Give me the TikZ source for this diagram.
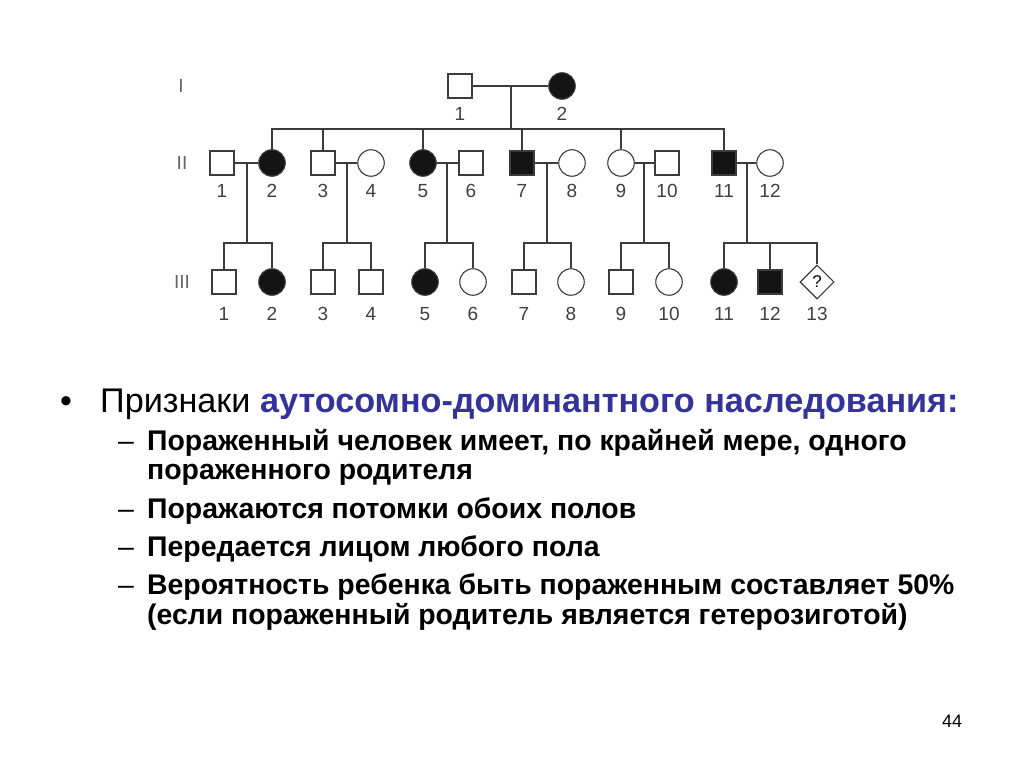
\documentclass[tikz,border=0pt]{standalone}
\usepackage{fontspec}
\setmainfont{Liberation Sans}
\usetikzlibrary{shapes.geometric,calc}
\definecolor{hblue}{RGB}{51,51,153}
\definecolor{pline}{RGB}{60,60,60}
\begin{document}
\begin{tikzpicture}[x=1pt,y=-1pt,
  conn/.style={line width=1.7pt, draw=pline},
  sq/.style={draw=pline, line width=1.1pt, rectangle, minimum size=24pt, inner sep=0pt},
  ci/.style={draw=pline, line width=1.1pt, circle, minimum size=26.5pt, inner sep=0pt},
  dia/.style={draw=pline, line width=1.1pt, diamond, minimum size=34pt, inner sep=0pt, font=\fontsize{17}{17}\selectfont},
  af/.style={fill=black!92},
  lab/.style={font=\fontsize{19}{19}\selectfont, text=black!75, inner sep=0pt},
  gen/.style={font=\fontsize{19}{19}\selectfont, text=black!60, inner sep=0pt},
  head/.style={anchor=base west, inner sep=0pt, font=\fontsize{34.2}{34}\selectfont},
  sub/.style={anchor=base west, inner sep=0pt, font=\fontsize{28.4}{28}\selectfont\bfseries},
  dsh/.style={anchor=base, inner sep=0pt, font=\fontsize{28.4}{28}\selectfont}
]
\useasboundingbox[fill=white] (0,0) rectangle (1024,768);

% generation labels
\node[gen] (gI) at (181,86) {I};
\node[gen] (gII) at (182,163) {II};
\node[gen] (gIII) at (182,282) {III};

% generation I
\node[sq] (I1) at (460,86) {};
\node[ci,af] (I2) at (562,86) {};
\node[lab] (lI1) at (460,114) {1};
\node[lab] (lI2) at (562,114) {2};

% generation II
\node[sq] (II1) at (222,163) {};
\node[ci,af] (II2) at (272,163) {};
\node[sq] (II3) at (323,163) {};
\node[ci] (II4) at (371,163) {};
\node[ci,af] (II5) at (423,163) {};
\node[sq] (II6) at (471,163) {};
\node[sq,af] (II7) at (522,163) {};
\node[ci] (II8) at (572,163) {};
\node[ci] (II9) at (621,163) {};
\node[sq] (II10) at (667,163) {};
\node[sq,af] (II11) at (724,163) {};
\node[ci] (II12) at (770,163) {};
\foreach \n/\x in {1/222,2/272,3/323,4/371,5/423,6/471,7/522,8/572,9/621,10/667,11/724,12/770}
  \node[lab] (lII\n) at (\x,191) {\n};

% generation III
\node[sq] (III1) at (224,282) {};
\node[ci,af] (III2) at (272,282) {};
\node[sq] (III3) at (323,282) {};
\node[sq] (III4) at (371,282) {};
\node[ci,af] (III5) at (425,282) {};
\node[ci] (III6) at (473,282) {};
\node[sq] (III7) at (524,282) {};
\node[ci] (III8) at (571,282) {};
\node[sq] (III9) at (621,282) {};
\node[ci] (III10) at (669,282) {};
\node[ci,af] (III11) at (724,282) {};
\node[sq,af] (III12) at (770,282) {};
\node[dia] (III13) at (817,282) {?};
\foreach \n/\x in {1/224,2/272,3/323,4/371,5/425,6/473,7/524,8/571,9/621,10/669,11/724,12/770,13/817}
  \node[lab] (lIII\n) at (\x,314) {\n};

% helper levels
\coordinate (sibII) at (0,129);
\coordinate (sibIII) at (0,243);

% marriage lines and descent lines
\draw[conn] (I1) -- (I2);
\coordinate (mI) at ($(I1)!0.5!(I2)$);
\draw[conn] (mI) -- (mI |- sibII);
\draw[conn] (II2.north) -- (II2 |- sibII) -- (II11 |- sibII) -- (II11.north);
\foreach \c in {II3,II5,II7,II9}
  \draw[conn] (\c.north) -- (\c |- sibII);

\foreach \a/\b/\l/\r in {II1/II2/III1/III2, II3/II4/III3/III4, II5/II6/III5/III6, II7/II8/III7/III8, II9/II10/III9/III10, II11/II12/III11/III13}{
  \draw[conn] (\a) -- (\b);
  \coordinate (m\a) at ($(\a)!0.5!(\b)$);
  \draw[conn] (m\a) -- (m\a |- sibIII);
  \draw[conn] (\l.north) -- (\l |- sibIII) -- (\r |- sibIII) -- (\r.north);
}
\draw[conn] (III12.north) -- (III12 |- sibIII);

% text
\node[anchor=base, inner sep=0pt, font=\fontsize{34}{34}\selectfont] (bul) at (66,412) {•};
\node[head] (h) at (100,412) {Признаки \textbf{\color{hblue}аутосомно-доминантного наследования:}};
\node[dsh] (d1) at (126,450) {–};
\node[sub] (t1) at (147,450) {Пораженный человек имеет, по крайней мере, одного};
\node[sub] (t1b) at (147,479) {пораженного родителя};
\node[dsh] (d2) at (126,518) {–};
\node[sub] (t2) at (147,518) {Поражаются потомки обоих полов};
\node[dsh] (d3) at (126,556) {–};
\node[sub] (t3) at (147,556) {Передается лицом любого пола};
\node[dsh] (d4) at (126,594) {–};
\node[sub] (t4) at (147,594) {Вероятность ребенка быть пораженным составляет 50\%};
\node[sub] (t4b) at (147,624) {(если пораженный родитель является гетерозиготой)};

\node[anchor=base, inner sep=0pt, font=\fontsize{18}{18}\selectfont] (pg) at (952,727) {44};
\end{tikzpicture}
\end{document}
